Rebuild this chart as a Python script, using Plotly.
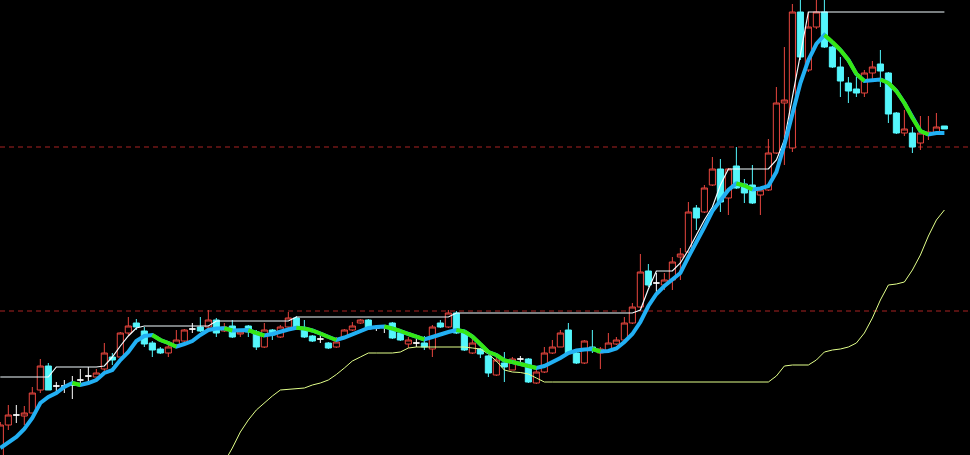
import plotly.graph_objects as go

# ---- data (price units) ----
idx = list(range(119))

open_ = [40, 75, 85, 84, 87, 110, 134, 114, 114, 115, 120, 124, 123, 131, 143, 143, 167, 177, 169, 157,
         151, 147, 155, 159, 171, 173, 173, 180, 169, 174, 166, 174, 168, 153, 170, 163, 173, 182, 172, 164,
         161, 157, 153, 163, 170, 177, 180, 172, 173, 177, 167, 156, 157, 157, 151, 177, 173, 187, 167, 147,
         151, 144, 125, 137, 130, 141, 141, 117, 128, 147, 153, 170, 147, 137, 153, 147, 149, 156, 160, 177,
         193, 229, 217, 215, 220, 243, 248, 292, 288, 315, 331, 302, 334, 316, 315, 305, 310, 347, 397, 352,
         488, 430, 473, 488, 453, 433, 417, 411, 407, 427, 436, 427, 387, 367, 367, 357, 366, 367, 374]
close = [75, 85, 85, 87, 107, 134, 110, 114, 114, 115, 120, 124, 127, 147, 140, 167, 174, 173, 156, 150,
         147, 153, 160, 170, 171, 169, 180, 167, 173, 163, 168, 168, 153, 170, 165, 173, 182, 172, 163, 159,
         161, 152, 158, 170, 174, 180, 171, 172, 173, 162, 160, 160, 157, 153, 173, 173, 187, 167, 150, 157,
         146, 127, 140, 133, 141, 141, 118, 128, 147, 153, 167, 147, 137, 159, 150, 151, 157, 160, 177, 193,
         228, 215, 217, 220, 238, 246, 288, 282, 312, 331, 298, 331, 312, 307, 297, 310, 347, 397, 400, 488,
         443, 473, 488, 453, 433, 419, 409, 407, 427, 433, 429, 386, 367, 371, 353, 367, 368, 373, 371]
high = [78, 95, 95, 94, 113, 141, 137, 118, 120, 124, 131, 133, 131, 157, 147, 168, 183, 181, 173, 159,
        153, 159, 170, 171, 177, 183, 190, 182, 177, 180, 170, 175, 170, 177, 171, 175, 188, 184, 180, 165,
        164, 158, 163, 171, 178, 181, 181, 175, 175, 178, 168, 163, 161, 164, 175, 180, 190, 189, 169, 162,
        152, 145, 143, 148, 143, 144, 142, 133, 153, 160, 170, 177, 148, 160, 170, 153, 167, 163, 183, 197,
        246, 236, 227, 227, 243, 252, 298, 295, 315, 343, 341, 332, 353, 321, 335, 312, 361, 413, 453, 496,
        500, 488, 500, 500, 454, 443, 423, 423, 430, 439, 450, 428, 388, 390, 373, 384, 384, 387, 374]
low = [38, 70, 77, 75, 87, 107, 110, 105, 107, 101, 117, 118, 123, 128, 135, 143, 165, 170, 153, 143,
       146, 143, 154, 158, 167, 168, 170, 163, 168, 162, 163, 163, 150, 152, 160, 162, 172, 171, 162, 158,
       157, 151, 152, 162, 169, 176, 170, 169, 167, 161, 159, 152, 153, 150, 143, 172, 172, 166, 149, 146,
       142, 123, 124, 118, 130, 138, 117, 116, 127, 146, 153, 146, 136, 136, 147, 131, 148, 155, 159, 176,
       192, 213, 208, 210, 210, 220, 247, 270, 287, 314, 288, 285, 311, 297, 296, 285, 309, 346, 335, 348,
       440, 428, 471, 452, 432, 403, 397, 403, 403, 420, 413, 377, 366, 364, 347, 350, 360, 366, 371]

ma = [52, 57, 63, 71, 82, 97, 103, 107, 113, 117, 115, 117, 120, 127, 130, 140, 148, 159, 164, 165,
      160, 157, 153.3, 156, 159, 165, 170, 171.5, 171.7, 169.5, 169.7, 169.9, 167, 164.5, 166, 168.5, 170.5, 172.3, 171.5, 169.5,
      166.5, 163, 160, 162.5, 166, 169, 172, 173, 173.5, 171.5, 169, 166, 163.3, 160.5, 163, 166, 168, 170, 168.5, 163.5,
      156, 148, 145, 139.5, 138, 136, 134, 132, 134, 137.5, 142, 147, 149.5, 150.5, 151, 148.5, 149, 151.5, 158, 166,
      178, 194, 206, 214, 220, 227, 243, 257, 273, 289, 300, 310, 316.5, 314.5, 310.5, 311.5, 314, 328, 355, 385,
      417, 440, 456, 465, 458, 450, 440, 426, 419, 419.5, 420.5, 417, 409, 397, 382, 369, 365.5, 367, 367]

upper = [123, 123, 123, 123, 123, 123, 123, 133, 133, 133, 133, 133, 133, 134, 143, 154, 164, 172, 174, 174,
         174, 174, 174, 174, 174, 174, 174, 179, 179, 179, 179, 179, 179, 179, 179, 179, 179, 183, 183, 183,
         183, 183, 183, 183, 183, 183, 183, 183, 183, 183, 183, 183, 183, 183, 183, 183, 183, 187, 187, 187,
         187, 187, 187, 187, 187, 187, 187, 187, 187, 187, 187, 187, 187, 187, 187, 187, 187, 187, 187, 187,
         190, 211, 229, 229, 229, 237, 250, 265, 280, 293, 315, 331, 331, 331, 331, 331, 331, 340, 360, 403,
         447, 488, 488, 488, 488, 488, 488, 488, 488, 488, 488, 488, 488, 488, 488, 488, 488, 488, 488]

lower = [None] * 28 + [
    38, 52, 68, 80, 90, 97, 104, 110, 110.5, 111, 112, 115,
    117, 120, 125.5, 132, 139, 143, 147, 147, 147, 147, 148, 152, 153, 153, 153, 153, 153, 153, 153, 152,
    151, 146, 139, 130, 128, 127.5, 126, 122, 118, 118, 118, 118, 118, 118, 118, 118, 118, 118, 118, 118,
    118, 118, 118, 118, 118, 118, 118, 118, 118, 118, 118, 118, 118, 118, 118, 118, 118, 124, 134, 135,
    135, 135, 140, 148, 150, 151, 153, 157, 167, 182, 200, 215, 216, 218, 230, 245, 264, 280, 290]

ref_levels = [189, 353]

# ---- styling ----
UP = "#E8463F"
DOWN = "#54F6FC"
DOJI = "#FFFFFF"
MA_UP = "#22B0F4"
MA_DN = "#36E812"

up_i = [i for i in idx if close[i] > open_[i]]
dn_i = [i for i in idx if close[i] < open_[i]]
dj_i = [i for i in idx if close[i] == open_[i]]


def sub(arr, ids):
    return [arr[i] for i in ids]


fig = go.Figure()

for ids, col, fill in [(up_i, UP, "#000000"), (dn_i, DOWN, DOWN), (dj_i, DOJI, DOJI)]:
    fig.add_trace(go.Candlestick(
        x=ids, open=sub(open_, ids), high=sub(high, ids), low=sub(low, ids), close=sub(close, ids),
        increasing=dict(line=dict(color=col, width=1), fillcolor=fill),
        decreasing=dict(line=dict(color=col, width=1), fillcolor=fill),
        hoverinfo="skip", showlegend=False,
    ))

# thin lines
fig.add_trace(go.Scatter(x=idx, y=lower, mode="lines", line=dict(color="#E2FF8A", width=1),
                         hoverinfo="skip", connectgaps=False))
fig.add_trace(go.Scatter(x=idx, y=upper, mode="lines", line=dict(color="#F2FCFF", width=1.2),
                         hoverinfo="skip"))

# thick MA: blue full, green on falling segments
fig.add_trace(go.Scatter(x=idx, y=ma, mode="lines", line=dict(color=MA_UP, width=4),
                         hoverinfo="skip"))
gx, gy = [], []
for i in range(1, len(ma)):
    if ma[i] < ma[i - 1]:
        gx += [idx[i - 1], idx[i], None]
        gy += [ma[i - 1], ma[i], None]
fig.add_trace(go.Scatter(x=gx, y=gy, mode="lines", line=dict(color=MA_DN, width=4),
                         hoverinfo="skip"))

shapes = [dict(type="line", xref="paper", x0=0, x1=1, yref="y", y0=v, y1=v, layer="below",
               line=dict(color="#A82222", width=1, dash="5px,4px")) for v in ref_levels]

fig.update_layout(
    width=970, height=455,
    margin=dict(l=0, r=0, t=0, b=0),
    paper_bgcolor="#000000", plot_bgcolor="#000000",
    showlegend=False,
    boxgap=0.1, boxgroupgap=0.15,
    shapes=shapes,
    xaxis=dict(range=[-0.04, 121.2], visible=False, rangeslider=dict(visible=False), fixedrange=True),
    yaxis=dict(range=[45, 500], visible=False, fixedrange=True),
)

fig.write_html(
    "out.html",
    config={"displayModeBar": False},
    post_script="document.body.style.margin='0';document.body.style.background='#000';",
)
